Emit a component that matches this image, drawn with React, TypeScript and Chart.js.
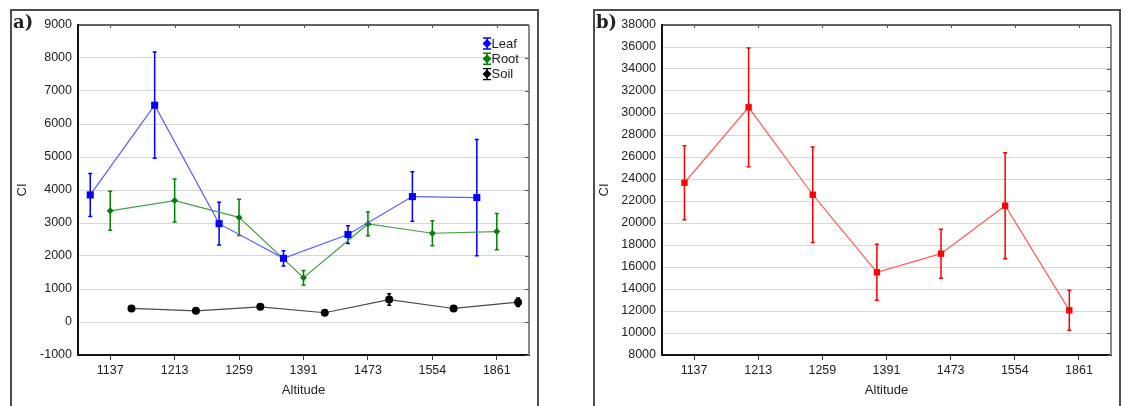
import React, { useEffect, useRef } from 'react';
import { Chart, registerables } from 'chart.js';

Chart.register(...registerables);

// Altitude classes shared by both panels
const altitudes = ['1137', '1213', '1259', '1391', '1473', '1554', '1861'];

// Panel a: CI per compartment (mean and error half-width)
const leafMean = [3850, 6570, 2980, 1930, 2650, 3800, 3770];
const leafErr = [650, 1610, 650, 230, 270, 750, 1760];
const rootMean = [3370, 3680, 3170, 1340, 2970, 2690, 2740];
const rootErr = [590, 650, 550, 220, 360, 380, 550];
const soilMean = [410, 340, 460, 280, 680, 410, 600];
const soilErr = [60, 50, 60, 50, 175, 50, 130];

// Panel b: total CI
const totalMean = [23660, 30520, 22570, 15520, 17210, 21570, 12060];
const totalErr = [3360, 5400, 4350, 2540, 2230, 4820, 1820];

const yTicksA = { min: -1000, max: 9000, step: 1000 };
const yTicksB = { min: 8000, max: 38000, step: 2000 };

const FONT = "'Liberation Sans', Arial, sans-serif";
const TEXT = '#222';

type SeriesDef = {
  label: string;
  mean: number[];
  err: number[];
  shift: number;
  line: string;
  mark: string;
  pointStyle: string;
  radius: number;
};

function toDataset(s: SeriesDef) {
  return {
    label: s.label,
    data: s.mean.map((v, i) => ({ x: i + s.shift, y: v })),
    borderColor: s.line,
    borderWidth: 1.2,
    backgroundColor: s.mark,
    pointBackgroundColor: s.mark,
    pointBorderColor: s.mark,
    pointBorderWidth: 0,
    pointStyle: s.pointStyle,
    pointRadius: s.radius,
    tension: 0,
    fill: false,
  };
}

// Vertical error bars with small caps, drawn under the markers
function makeErrorBars(series: SeriesDef[]) {
  return {
    id: 'errorBars',
    beforeDatasetsDraw(chart: any) {
      const { ctx } = chart;
      const x = chart.scales.x;
      const y = chart.scales.y;
      ctx.save();
      ctx.lineWidth = 1.5;
      series.forEach((s) => {
        s.mean.forEach((m, i) => {
          const e = s.err[i];
          const px = x.getPixelForValue(i + s.shift);
          const top = y.getPixelForValue(m + e);
          const bot = y.getPixelForValue(m - e);
          ctx.strokeStyle = s.mark;
          ctx.beginPath();
          ctx.moveTo(px, top);
          ctx.lineTo(px, bot);
          ctx.moveTo(px - 2, top);
          ctx.lineTo(px + 2, top);
          ctx.moveTo(px - 2, bot);
          ctx.lineTo(px + 2, bot);
          ctx.stroke();
        });
      });
      ctx.restore();
    },
  };
}

// Top and right frame of the plot area with inward tick marks
const plotFrame = {
  id: 'plotFrame',
  afterDraw(chart: any) {
    const { ctx, chartArea: a } = chart;
    const x = chart.scales.x;
    const y = chart.scales.y;
    ctx.save();
    ctx.strokeStyle = '#333';
    ctx.lineWidth = 1.5;
    ctx.beginPath();
    ctx.moveTo(a.left, a.top);
    ctx.lineTo(a.right, a.top);
    ctx.stroke();
    ctx.strokeStyle = '#8a8a8a';
    ctx.lineWidth = 2;
    ctx.beginPath();
    ctx.moveTo(a.right, a.top);
    ctx.lineTo(a.right, a.bottom);
    ctx.stroke();
    ctx.lineWidth = 1;
    ctx.strokeStyle = '#555';
    ctx.beginPath();
    x.ticks.forEach((t: any) => {
      const px = Math.round(x.getPixelForValue(t.value)) + 0.5;
      ctx.moveTo(px, a.top);
      ctx.lineTo(px, a.top + 3);
    });
    y.ticks.forEach((t: any) => {
      const py = Math.round(y.getPixelForValue(t.value)) + 0.5;
      ctx.moveTo(a.right, py);
      ctx.lineTo(a.right - 4, py);
    });
    ctx.stroke();
    ctx.restore();
  },
};

// Legend box in the upper right of panel a
function makeLegend(series: SeriesDef[]) {
  return {
    id: 'legendBox',
    afterDraw(chart: any) {
      const { ctx, chartArea: a } = chart;
      const cx = a.right - 42;
      let cy = a.top + 18.5;
      ctx.save();
      ctx.font = `13px ${FONT}`;
      ctx.textBaseline = 'middle';
      ctx.textAlign = 'left';
      series.forEach((s) => {
        ctx.strokeStyle = s.mark;
        ctx.fillStyle = s.mark;
        ctx.lineWidth = 1.4;
        ctx.beginPath();
        ctx.moveTo(cx, cy - 5.5);
        ctx.lineTo(cx, cy + 5.5);
        ctx.moveTo(cx - 4, cy - 5.5);
        ctx.lineTo(cx + 4, cy - 5.5);
        ctx.moveTo(cx - 4, cy + 5.5);
        ctx.lineTo(cx + 4, cy + 5.5);
        ctx.stroke();
        ctx.beginPath();
        ctx.moveTo(cx, cy - 4.5);
        ctx.lineTo(cx + 4.5, cy);
        ctx.lineTo(cx, cy + 4.5);
        ctx.lineTo(cx - 4.5, cy);
        ctx.closePath();
        ctx.fill();
        ctx.fillStyle = TEXT;
        ctx.fillText(s.label, cx + 4.5, cy + 0.5);
        cy += 15.3;
      });
      ctx.restore();
    },
  };
}

function makeConfig(
  series: SeriesDef[],
  ticks: { min: number; max: number; step: number },
  yWidth: number,
  titlePad: number,
  extra: any[]
) {
  return {
    type: 'line' as const,
    data: { datasets: series.map(toDataset) },
    options: {
      animation: false,
      responsive: false,
      events: [],
      layout: { padding: { left: 0, top: 14, right: 7, bottom: 0 } },
      plugins: { legend: { display: false }, tooltip: { enabled: false } },
      scales: {
        x: {
          type: 'linear',
          min: -0.5,
          max: 6.5,
          afterBuildTicks: (s: any) => {
            s.ticks = altitudes.map((_, i) => ({ value: i }));
          },
          afterFit: (s: any) => {
            s.height = 51;
          },
          ticks: {
            callback: (v: any) => altitudes[v] ?? '',
            autoSkip: false,
            maxRotation: 0,
            padding: 3,
            color: TEXT,
            font: { family: FONT, size: 12.5 },
          },
          grid: {
            drawOnChartArea: false,
            drawTicks: true,
            tickLength: 5,
            tickColor: '#333',
            tickWidth: 1,
          },
          border: { display: true, color: '#111', width: 2 },
          title: {
            display: true,
            text: 'Altitude',
            color: TEXT,
            font: { family: FONT, size: 13 },
            padding: { top: 0, bottom: 8 },
          },
        },
        y: {
          type: 'linear',
          min: ticks.min,
          max: ticks.max,
          afterFit: (s: any) => {
            s.width = yWidth;
          },
          ticks: {
            stepSize: ticks.step,
            padding: 6,
            color: TEXT,
            font: { family: FONT, size: 12.5 },
            callback: (v: any) => String(v),
          },
          grid: { color: '#d6d6d6', lineWidth: 1, drawTicks: false },
          border: { display: true, color: '#111', width: 2 },
          title: {
            display: true,
            text: 'CI',
            color: TEXT,
            font: { family: FONT, size: 13 },
            padding: { top: titlePad, bottom: 0 },
          },
        },
      },
    },
    plugins: [makeErrorBars(series), plotFrame, ...extra],
  };
}

const seriesA: SeriesDef[] = [
  { label: 'Leaf', mean: leafMean, err: leafErr, shift: -0.31, line: '#5c5cff', mark: '#0000ff', pointStyle: 'rect', radius: 5 },
  { label: 'Root', mean: rootMean, err: rootErr, shift: 0, line: '#4a9f4a', mark: '#008000', pointStyle: 'rectRot', radius: 3.5 },
  { label: 'Soil', mean: soilMean, err: soilErr, shift: 0.33, line: '#4a4a4a', mark: '#000000', pointStyle: 'circle', radius: 4 },
];

const seriesB: SeriesDef[] = [
  { label: 'CI', mean: totalMean, err: totalErr, shift: -0.15, line: '#ff5c5c', mark: '#ff0000', pointStyle: 'rect', radius: 4.5 },
];

const frameStyle = (left: number, width: number): React.CSSProperties => ({
  position: 'absolute',
  left,
  top: 9,
  width,
  height: 410,
  border: '2px solid #4d4d4d',
  boxSizing: 'border-box',
});

const panelLabel = (left: number): React.CSSProperties => ({
  position: 'absolute',
  left,
  top: 13,
  fontFamily: "'DejaVu Serif', serif",
  fontWeight: 'bold',
  fontSize: 18,
  lineHeight: '18px',
  color: '#222',
});

export default function App() {
  const refA = useRef<HTMLCanvasElement>(null);
  const refB = useRef<HTMLCanvasElement>(null);

  useEffect(() => {
    const a = new Chart(refA.current!, makeConfig(seriesA, yTicksA, 66, 2.2, [makeLegend(seriesA)]) as any);
    const b = new Chart(refB.current!, makeConfig(seriesB, yTicksB, 67, 1.2, []) as any);
    return () => {
      a.destroy();
      b.destroy();
    };
  }, []);

  return (
    <div style={{ position: 'absolute', left: 0, top: 0, width: 1127, height: 406, overflow: 'hidden', background: '#fff' }}>
      <div style={frameStyle(10, 529)} />
      <div style={frameStyle(593, 528)} />
      <canvas ref={refA} width={524} height={395} style={{ position: 'absolute', left: 12, top: 11 }} />
      <canvas ref={refB} width={523} height={395} style={{ position: 'absolute', left: 595, top: 11 }} />
      <div style={panelLabel(13)}>a)</div>
      <div style={panelLabel(596)}>b)</div>
    </div>
  );
}
